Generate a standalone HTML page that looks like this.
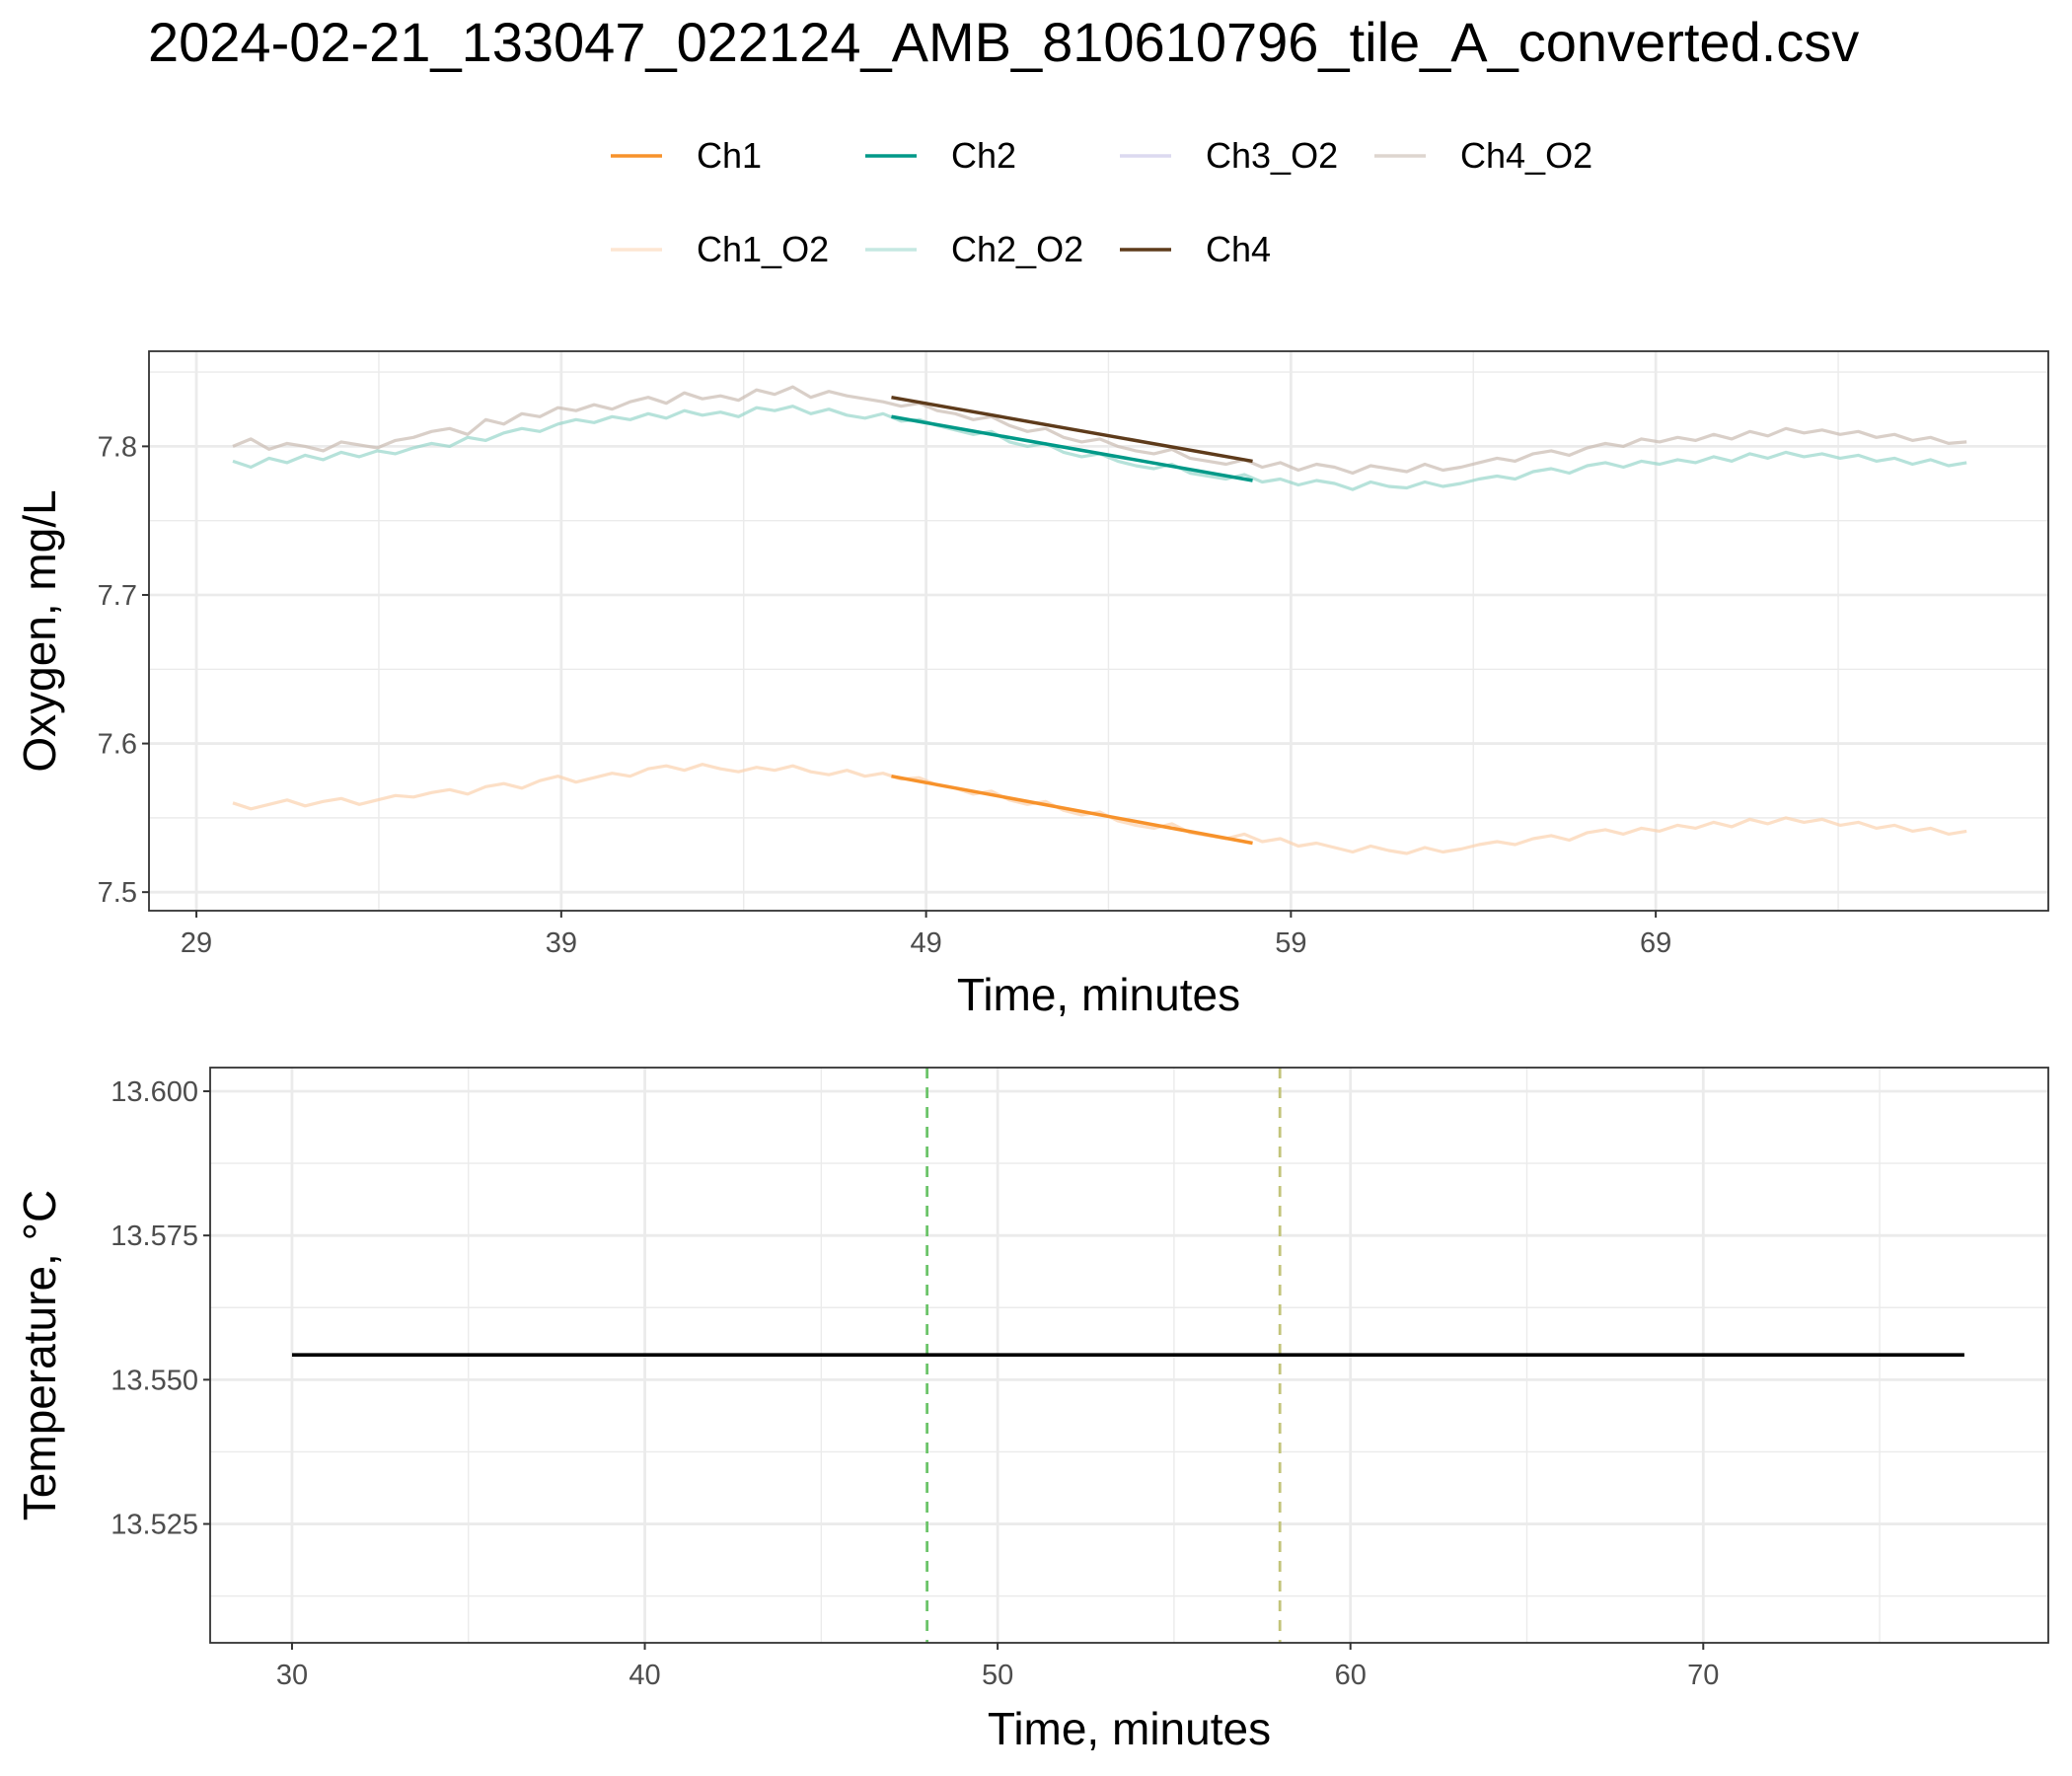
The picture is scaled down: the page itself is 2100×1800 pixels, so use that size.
<!DOCTYPE html>
<html><head><meta charset="utf-8"><style>
html,body{margin:0;padding:0;background:#fff}
svg{display:block;font-family:"Liberation Sans",Arial,sans-serif}
</style></head><body>
<svg id="chart" width="2100" height="1800" viewBox="0 0 2100 1800" xmlns="http://www.w3.org/2000/svg">
<rect width="2100" height="1800" fill="#fff"/>
<text x="150" y="62" font-size="56" fill="#000">2024-02-21_133047_022124_AMB_810610796_tile_A_converted.csv</text>
<g id="legend"></g>
<g id="topPanel"></g>
<g id="botPanel"></g>
</svg>
<script>
// ---- data ----
const timeStart = 30.0, timeStep = 0.495;
const ch4O2 = [7.800,7.805,7.798,7.802,7.800,7.797,7.803,7.801,7.799,7.804,
7.806,7.810,7.812,7.808,7.818,7.815,7.822,7.820,7.826,7.824,
7.828,7.825,7.830,7.833,7.829,7.836,7.832,7.834,7.831,7.838,
7.835,7.840,7.833,7.837,7.834,7.832,7.830,7.827,7.829,7.824,
7.822,7.818,7.820,7.814,7.810,7.812,7.806,7.803,7.805,7.800,
7.797,7.795,7.798,7.792,7.790,7.788,7.791,7.786,7.789,7.784,
7.788,7.786,7.782,7.787,7.785,7.783,7.788,7.784,7.786,7.789,
7.792,7.790,7.795,7.797,7.794,7.799,7.802,7.800,7.805,7.803,
7.806,7.804,7.808,7.805,7.810,7.807,7.812,7.809,7.811,7.808,
7.810,7.806,7.808,7.804,7.806,7.802,7.803];
const ch2O2 = [7.790,7.786,7.792,7.789,7.794,7.791,7.796,7.793,7.797,7.795,
7.799,7.802,7.800,7.806,7.804,7.809,7.812,7.810,7.815,7.818,
7.816,7.820,7.818,7.822,7.819,7.824,7.821,7.823,7.820,7.826,
7.824,7.827,7.822,7.825,7.821,7.819,7.822,7.817,7.818,7.814,
7.811,7.808,7.810,7.803,7.800,7.802,7.796,7.793,7.795,7.790,
7.787,7.785,7.788,7.782,7.780,7.778,7.781,7.776,7.778,7.774,
7.777,7.775,7.771,7.776,7.773,7.772,7.776,7.773,7.775,7.778,
7.780,7.778,7.783,7.785,7.782,7.787,7.789,7.786,7.790,7.788,
7.791,7.789,7.793,7.790,7.795,7.792,7.796,7.793,7.795,7.792,
7.794,7.790,7.792,7.788,7.791,7.787,7.789];
const ch1O2 = [7.560,7.556,7.559,7.562,7.558,7.561,7.563,7.559,7.562,7.565,
7.564,7.567,7.569,7.566,7.571,7.573,7.570,7.575,7.578,7.574,
7.577,7.580,7.578,7.583,7.585,7.582,7.586,7.583,7.581,7.584,
7.582,7.585,7.581,7.579,7.582,7.578,7.580,7.576,7.577,7.572,
7.570,7.566,7.568,7.562,7.559,7.561,7.555,7.552,7.554,7.548,
7.545,7.543,7.546,7.540,7.538,7.536,7.539,7.534,7.536,7.531,
7.533,7.530,7.527,7.531,7.528,7.526,7.530,7.527,7.529,7.532,
7.534,7.532,7.536,7.538,7.535,7.540,7.542,7.539,7.543,7.541,
7.545,7.543,7.547,7.544,7.549,7.546,7.550,7.547,7.549,7.545,
7.547,7.543,7.545,7.541,7.543,7.539,7.541];
const fitTimes = [48.05, 57.95];
const fitCh1 = [7.578, 7.533];
const fitCh2 = [7.820, 7.777];
const fitCh4 = [7.833, 7.790];
const topXTicks = [29, 39, 49, 59, 69];
const topYTicks = [7.5, 7.6, 7.7, 7.8];
const tempTimes = [30, 77.4];
const tempValues = [13.5543, 13.5543];
const vlineTimes = [48, 58];
const botXTicks = [30, 40, 50, 60, 70];
const botYTicks = [13.525, 13.550, 13.575, 13.600];
const legendLabels = ["Ch1","Ch2","Ch3_O2","Ch4_O2","Ch1_O2","Ch2_O2","Ch4"];
const legendColors = ["#f7922b","#009988","#dcd9f0","#ddd5cf","#fde6d2","#c5e8e2","#5e3b1b"];

const NS = "http://www.w3.org/2000/svg";
function mk(tag, attrs, parent){const e=document.createElementNS(NS,tag);for(const k in attrs)e.setAttribute(k,attrs[k]);parent.appendChild(e);return e;}

const lg = document.getElementById('legend');
legendLabels.forEach((lab,i)=>{
  const col=i%4,row=Math.floor(i/4);
  const x=619+col*258, y=158+row*95;
  const g=mk('g',{},lg);
  
  
  mk('line',{x1:x,x2:x+52,y1:y,y2:y,stroke:legendColors[i],'stroke-width':3.5},g);
  const t=mk('text',{x:x+87,y:y+12,'font-size':36,fill:'#000'},g);t.textContent=lab;
});

function panel(gid, box, xr, yr, xMinor, yMinor, xTicks, yTicks, yFmt, yTitle, xTitleY){
  const g=document.getElementById(gid);
  const sx=v=>box.x0+(v-xr[0])/(xr[1]-xr[0])*(box.x1-box.x0);
  const sy=v=>box.y1-(v-yr[0])/(yr[1]-yr[0])*(box.y1-box.y0);
  const grid=mk('g',{},g);
  
  
  xMinor.forEach(v=>mk('line',{x1:sx(v),x2:sx(v),y1:box.y0,y2:box.y1,stroke:'#ebebeb','stroke-width':1.4},grid));
  yMinor.forEach(v=>mk('line',{x1:box.x0,x2:box.x1,y1:sy(v),y2:sy(v),stroke:'#ebebeb','stroke-width':1.4},grid));
  xTicks.forEach(v=>mk('line',{x1:sx(v),x2:sx(v),y1:box.y0,y2:box.y1,stroke:'#ebebeb','stroke-width':2.8},grid));
  yTicks.forEach(v=>mk('line',{x1:box.x0,x2:box.x1,y1:sy(v),y2:sy(v),stroke:'#ebebeb','stroke-width':2.8},grid));
  const ax=mk('g',{},g);
  
  
  xTicks.forEach(v=>{mk('line',{x1:sx(v),x2:sx(v),y1:box.y1,y2:box.y1+7,stroke:'#333','stroke-width':2},ax);
    const t=mk('text',{x:sx(v),y:box.y1+42,'font-size':29,fill:'#4d4d4d','text-anchor':'middle'},ax);t.textContent=v;});
  yTicks.forEach(v=>{mk('line',{x1:box.x0-7,x2:box.x0,y1:sy(v),y2:sy(v),stroke:'#333','stroke-width':2},ax);
    const t=mk('text',{x:box.x0-12,y:sy(v)+10,'font-size':29,fill:'#4d4d4d','text-anchor':'end'},ax);t.textContent=yFmt(v);});
  const xt=mk('text',{x:(box.x0+box.x1)/2,y:xTitleY,'font-size':46,fill:'#000','text-anchor':'middle'},ax);xt.textContent='Time, minutes';
  
  const cy=(box.y0+box.y1)/2;
  const yt=mk('text',{x:0,y:0,'font-size':46,fill:'#000','text-anchor':'middle',transform:`translate(56,${cy}) rotate(-90)`},ax);yt.textContent=yTitle;
  
  return {g,sx,sy,box};
}

const topP=panel('topPanel',{x0:151,x1:2076,y0:356,y1:923},[27.70,79.76],[7.4875,7.864],
  [34,44,54,64,74],[7.55,7.65,7.75,7.85],topXTicks,topYTicks,v=>v.toFixed(1),'Oxygen, mg/L',1024);
function series(p,vals,color,name,w,op){
  let d='';vals.forEach((v,i)=>{const t=timeStart+i*timeStep;d+=(i?'L':'M')+p.sx(t).toFixed(1)+','+p.sy(v).toFixed(1);});
  const e=mk('path',{d,fill:'none',stroke:color,'stroke-width':w,'stroke-opacity':op,'stroke-linejoin':'round'},p.g);
  
  
}
series(topP,ch4O2,'#c9bbb0','ch4-o2-line',3.2,0.7);
series(topP,ch2O2,'#8fd3c6','ch2-o2-line',3.2,0.65);
series(topP,ch1O2,'#fbd2ae','ch1-o2-line',3.2,0.7);
function fit(p,vals,color,name){
  const e=mk('line',{x1:p.sx(fitTimes[0]),x2:p.sx(fitTimes[1]),y1:p.sy(vals[0]),y2:p.sy(vals[1]),stroke:color,'stroke-width':3.5},p.g);
  
  
}
fit(topP,fitCh1,'#f7922b','ch1-fit-line');
fit(topP,fitCh2,'#009988','ch2-fit-line');
fit(topP,fitCh4,'#5e3b1b','ch4-fit-line');
mk('rect',{x:151,y:356,width:1925,height:567,fill:'none',stroke:'#333','stroke-width':1.8},topP.g);

const botP=panel('botPanel',{x0:213,x1:2076,y0:1082,y1:1665},[27.68,79.78],[13.5044,13.6041],
  [35,45,55,65,75],[13.5125,13.5375,13.5625,13.5875],botXTicks,botYTicks,v=>v.toFixed(3),'Temperature, °C',1768);
vlineTimes.forEach((t,i)=>{
  const e=mk('line',{x1:botP.sx(t),x2:botP.sx(t),y1:1082,y2:1665,stroke:i?'#c2c47a':'#6cc46a','stroke-width':2.8,'stroke-dasharray':'11,9'},botP.g);
  
  
});
const tl=mk('line',{x1:botP.sx(tempTimes[0]),x2:botP.sx(tempTimes[1]),y1:botP.sy(tempValues[0]),y2:botP.sy(tempValues[1]),stroke:'#000','stroke-width':3.6},botP.g);


mk('rect',{x:213,y:1082,width:1863,height:583,fill:'none',stroke:'#333','stroke-width':1.8},botP.g);
</script>
</body></html>
